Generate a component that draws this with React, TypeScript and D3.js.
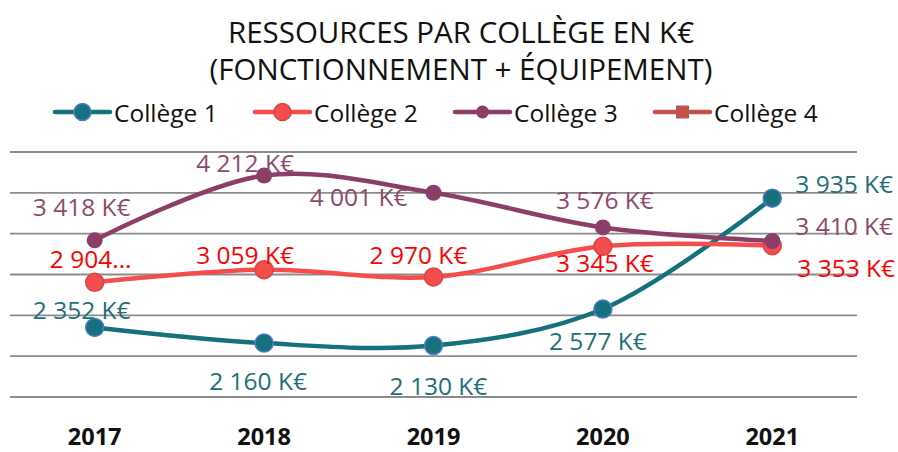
import { useEffect, useRef } from 'react';
import * as d3 from 'd3';

const years = ['2017', '2018', '2019', '2020', '2021'];
const college1 = [2352, 2160, 2130, 2577, 3935];
const college2 = [2904, 3059, 2970, 3345, 3353];
const college3 = [3418, 4212, 4001, 3576, 3410];
const college4: number[] = [];
const gridValues = [1500, 2000, 2500, 3000, 3500, 4000, 4500];
const labels1 = ['2 352 K€', '2 160 K€', '2 130 K€', '2 577 K€', '3 935 K€'];
const labels2 = ['2 904...', '3 059 K€', '2 970 K€', '3 345 K€', '3 353 K€'];
const labels3 = ['3 418 K€', '4 212 K€', '4 001 K€', '3 576 K€', '3 410 K€'];

const W = 898;
const H = 452;
const FONT = '"Open Sans", "Noto Sans", sans-serif';

export default function App() {
    const svgRef = useRef<SVGSVGElement>(null);

    useEffect(() => {
        if (!svgRef.current) return;
        const svg = d3.select(svgRef.current);
        svg.selectAll('*').remove();

        const x = d3.scalePoint<string>().domain(years).range([10, 857]).padding(0.5);
        const y = d3.scaleLinear().domain([1500, 4500]).range([397, 152]);

        // title
        const title = svg.append('text')
            .attr('text-anchor', 'middle')
            .attr('font-family', FONT).attr('font-size', 29.5).attr('fill', '#111');
        title.append('tspan').attr('x', 461).attr('y', 43).text('RESSOURCES PAR COLLÈGE EN K€');
        title.append('tspan').attr('x', 461).attr('y', 80).text('(FONCTIONNEMENT + ÉQUIPEMENT)');

        // gridlines
        svg.append('g').selectAll('line')
            .data(gridValues)
            .enter()
            .append('line')
            .attr('x1', 10).attr('x2', 857)
            .attr('y1', d => y(d)).attr('y2', d => y(d))
            .attr('stroke', '#8c8c8c').attr('stroke-width', 1.8);

        // x axis labels
        svg.append('g').selectAll('text')
            .data(years)
            .enter()
            .append('text')
            .attr('x', d => x(d) || 0)
            .attr('y', 445)
            .attr('text-anchor', 'middle')
            .attr('font-family', FONT).attr('font-weight', 'bold').attr('font-size', 23.5)
            .attr('fill', '#111')
            .text(d => d);

        const series = [
            { name: 'Collège 1', values: college1, labels: labels1, line: '#17707d', fill: '#17707d', stroke: '#4a7ec8', r: 9, labelColor: '#1f6f7a',
              place: [[-13, -18, 'middle'], [-6, 37, 'middle'], [5, 40, 'middle'], [-5, 31, 'middle'], [23, -15, 'start']] },
            { name: 'Collège 2', values: college2, labels: labels2, line: '#f44d4d', fill: '#f44d4d', stroke: '#d84545', r: 9, labelColor: '#ff0000',
              place: [[-4, -24, 'middle'], [-19, -15, 'middle'], [-15, -22, 'middle'], [2, 16, 'middle'], [25, 22, 'start']] },
            { name: 'Collège 3', values: college3, labels: labels3, line: '#8b3f68', fill: '#8b3f68', stroke: 'none', r: 8, labelColor: '#8d4a6f',
              place: [[-13, -34, 'middle'], [-19, -13, 'middle'], [-26, 4, 'end'], [2, -28, 'middle'], [23, -16, 'start']] },
        ];

        const line = d3.line<number>()
            .x((_, i) => x(years[i]) || 0)
            .y(d => y(d))
            .curve(d3.curveCatmullRom);

        series.forEach(s => {
            const g = svg.append('g');
            g.append('path')
                .attr('d', line(s.values))
                .attr('fill', 'none')
                .attr('stroke', s.line)
                .attr('stroke-width', 4.5)
                .attr('stroke-linecap', 'round');
            g.selectAll('circle')
                .data(s.values)
                .enter()
                .append('circle')
                .attr('cx', (_, i) => x(years[i]) || 0)
                .attr('cy', d => y(d))
                .attr('r', s.r)
                .attr('fill', s.fill)
                .attr('stroke', s.stroke)
                .attr('stroke-width', 1.5);
        });

        // data labels
        series.forEach(s => {
            svg.append('g').selectAll('text')
                .data(s.values)
                .enter()
                .append('text')
                .attr('x', (_, i) => (x(years[i]) || 0) + (s.place[i][0] as number))
                .attr('y', (d, i) => y(d) + (s.place[i][1] as number))
                .attr('text-anchor', (_, i) => s.place[i][2] as string)
                .attr('dominant-baseline', 'central')
                .attr('font-family', FONT).attr('font-size', 24.5)
                .attr('fill', s.labelColor)
                .text((_, i) => s.labels[i]);
        });

        // legend
        const legend = [
            { name: 'Collège 1', color: '#17707d', stroke: '#4a7ec8', shape: 'circle', r: 8.5, x0: 55 },
            { name: 'Collège 2', color: '#f44d4d', stroke: '#d84545', shape: 'circle', r: 8.5, x0: 255 },
            { name: 'Collège 3', color: '#8b3f68', stroke: 'none', shape: 'circle', r: 6.5, x0: 455 },
            { name: 'Collège 4', color: '#c4504b', stroke: 'none', shape: 'square', r: 6.5, x0: 655, data: college4 },
        ];
        const lg = svg.append('g');
        legend.forEach(l => {
            const cy = 112;
            lg.append('line')
                .attr('x1', l.x0).attr('x2', l.x0 + 55)
                .attr('y1', cy).attr('y2', cy)
                .attr('stroke', l.color).attr('stroke-width', 4.5).attr('stroke-linecap', 'round');
            if (l.shape === 'circle') {
                lg.append('circle')
                    .attr('cx', l.x0 + 27.5).attr('cy', cy).attr('r', l.r)
                    .attr('fill', l.color).attr('stroke', l.stroke).attr('stroke-width', 1.5);
            } else {
                lg.append('rect')
                    .attr('x', l.x0 + 27.5 - l.r).attr('y', cy - l.r)
                    .attr('width', l.r * 2).attr('height', l.r * 2)
                    .attr('fill', l.color);
            }
            lg.append('text')
                .attr('x', l.x0 + 59).attr('y', cy)
                .attr('dominant-baseline', 'central')
                .attr('font-family', FONT).attr('font-size', 24.5)
                .attr('fill', '#111')
                .text(l.name);
        });
    }, []);

    return (
        <svg ref={svgRef} width={W} height={H} style={{ display: 'block', position: 'absolute', left: 0, top: 0, background: '#fff' }} />
    );
}
